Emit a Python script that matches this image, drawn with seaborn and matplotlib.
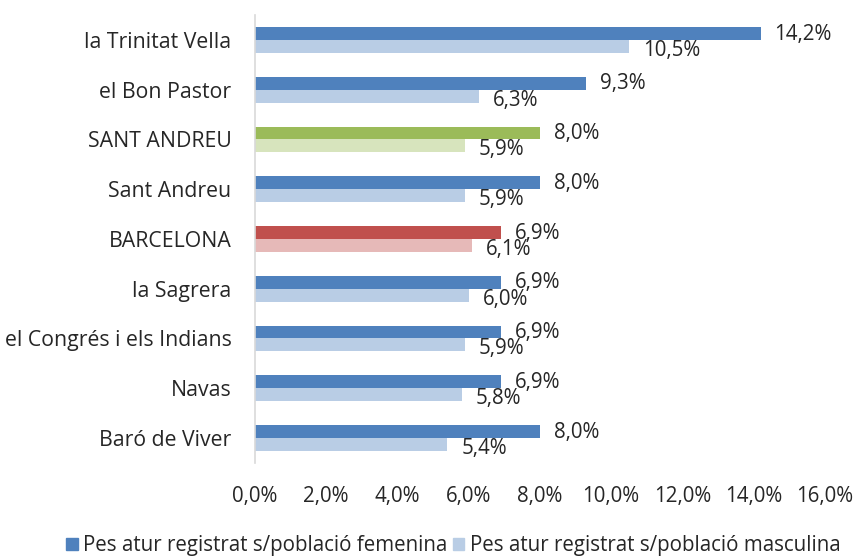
import numpy as np
import pandas as pd
import seaborn as sns
import matplotlib.pyplot as plt
from matplotlib.ticker import FuncFormatter
from matplotlib.patches import Patch

# data
barris = ["la Trinitat Vella", "el Bon Pastor", "SANT ANDREU", "Sant Andreu",
          "BARCELONA", "la Sagrera", "el Congrés i els Indians", "Navas", "Baró de Viver"]
femenina = [14.2, 9.3, 8.0, 8.0, 6.9, 6.9, 6.9, 6.9, 8.0]
masculina = [10.5, 6.3, 5.9, 5.9, 6.1, 6.0, 5.9, 5.8, 5.4]
series = ["Pes atur registrat s/població femenina", "Pes atur registrat s/població masculina"]

df = pd.DataFrame({
    "barri": barris * 2,
    "valor": femenina + masculina,
    "serie": [series[0]] * len(barris) + [series[1]] * len(barris),
})

sns.set_style("white")
plt.rcParams["font.family"] = ["Open Sans", "DejaVu Sans"]
txt = "#262626"
fs = 14.8

fig = plt.figure(figsize=(8.6, 5.59), dpi=100)
ax = fig.add_axes([0.2965, 0.172, 0.6625, 0.801])

sns.barplot(data=df, x="valor", y="barri", hue="serie", orient="h",
            palette=["#4F81BD", "#B9CDE5"], width=0.52, saturation=1,
            linewidth=0, order=barris, hue_order=series, ax=ax)
ax.get_legend().remove()

# special colours for the district and the city
dark = {"SANT ANDREU": "#9BBB59", "BARCELONA": "#C0504D"}
light = {"SANT ANDREU": "#D7E4BD", "BARCELONA": "#E6B9B8"}
for i, b in enumerate(barris):
    if b in dark:
        ax.containers[0][i].set_facecolor(dark[b])
        ax.containers[1][i].set_facecolor(light[b])

fmt = lambda v: f"{v:.1f}%".replace(".", ",")
for k, cont in enumerate(ax.containers):
    dy = 0.5 if k == 0 else 4
    for bar, v in zip(cont, femenina if k == 0 else masculina):
        ax.annotate(fmt(v), (bar.get_width(), bar.get_y() + bar.get_height() / 2),
                    xytext=(10, -dy * 0.72), textcoords="offset points",
                    ha="left", va="center", fontsize=fs, color=txt)

ax.set_xlim(0, 16)
ax.set_xticks(np.arange(0, 16.1, 2))
ax.xaxis.set_major_formatter(FuncFormatter(lambda v, p: fmt(v)))
ax.set_xlabel("")
ax.set_ylabel("")
ax.tick_params(axis="x", length=0, pad=17, labelsize=fs, labelcolor=txt)
ax.tick_params(axis="y", length=0, pad=17, labelsize=15.3, labelcolor=txt)
for s in ["top", "right", "bottom"]:
    ax.spines[s].set_visible(False)
ax.spines["left"].set_color("#D9D9D9")
ax.spines["left"].set_linewidth(1.2)

handles = [Patch(color="#4F81BD"), Patch(color="#B9CDE5")]
fig.legend(handles, series, loc="center", bbox_to_anchor=(0.527, 0.024), ncol=2,
           frameon=False, fontsize=fs, handlelength=0.55, handleheight=0.55,
           handletextpad=0.25, columnspacing=0.3, labelcolor=txt)

fig.savefig("out.png", dpi=100)
